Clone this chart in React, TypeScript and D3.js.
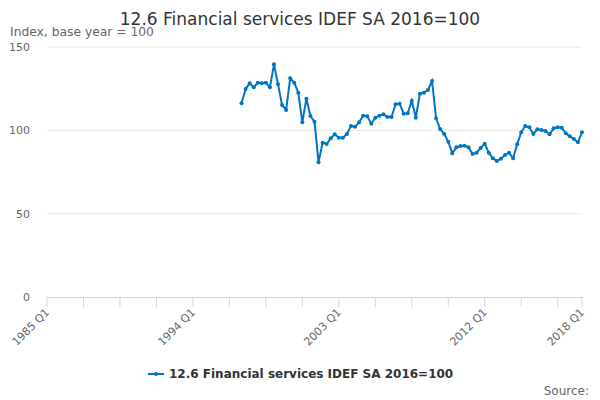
import * as d3 from 'd3';

const TITLE = '12.6 Financial services IDEF SA 2016=100';
const SUBTITLE = 'Index, base year = 100';
const SERIES_NAME = '12.6 Financial services IDEF SA 2016=100';

const startYear = 1985;
const endYear = 2018;
const firstDataQuarter = '1997 Q1';

const values = [
  116.2, 124.8, 128.2, 125.8, 128.6, 128.2, 128.6, 125.8, 139.6, 127.6,
  115.2, 112.2, 131.2, 128.6, 122.6, 104.8, 119, 108.6, 105.2, 80.8,
  92.6, 91.8, 95.2, 97.6, 95.6, 95.6, 97.8, 102.6, 102.2, 104.8,
  108.8, 108.4, 104, 107.6, 108.8, 109.6, 108, 108, 115.6, 116,
  110, 110.2, 117.8, 107.6, 122, 122.6, 124.2, 129.6, 107.2, 100.8,
  97.8, 93.2, 86.2, 89.8, 90.6, 90.8, 89.8, 85.8, 86.6, 89.4,
  92, 86.6, 83.2, 81.6, 83, 85.2, 86.6, 83.2, 91.6, 98.8,
  102.6, 101.8, 97.8, 100.6, 100.2, 99.6, 97.6, 101.2, 101.8, 101.6,
  98.2, 96.4, 94.8, 92.8, 98.8,
];

const yTicks = [0, 50, 100, 150];

// all quarters on the category axis
const categories: string[] = [];
for (let y = startYear; y <= endYear; y++) {
  for (let q = 1; q <= 4; q++) {
    categories.push(`${y} Q${q}`);
    if (y === endYear) break;
  }
}
const labelEvery = 36;
const tickEvery = 9;

const W = 600;
const H = 400;
const margin = { left: 47, right: 18, top: 47, bottom: 103 };
const font = '"DejaVu Sans", sans-serif';

export default function App() {
  const innerW = W - margin.left - margin.right;
  const innerH = H - margin.top - margin.bottom;

  const x = d3.scalePoint<string>().domain(categories).range([0, innerW]);
  const y = d3.scaleLinear().domain([0, 150]).range([innerH, 0]);

  const start = categories.indexOf(firstDataQuarter);
  const data = values.map((v, i) => ({ cat: categories[start + i], v }));

  const line = d3
    .line<{ cat: string; v: number }>()
    .x(d => x(d.cat) as number)
    .y(d => y(d.v));

  const tickCats = categories.filter((_, i) => i % tickEvery === 0 || i === categories.length - 1);
  const labelCats = categories.filter((_, i) => i % labelEvery === 0 || i === categories.length - 1);

  return (
    <svg
      width={W}
      height={H}
      style={{ position: 'absolute', left: 0, top: 0, fontFamily: font }}
    >
      <rect width={W} height={H} fill="#fff" />
      <text x={W / 2} y={25} textAnchor="middle" fontSize={17} fill="#333">
        {TITLE}
      </text>
      <text x={10} y={36} fontSize={12.3} fill="#666">
        {SUBTITLE}
      </text>

      <g transform={`translate(${margin.left},${margin.top})`}>
        {/* grid + y labels */}
        {yTicks.map(t => (
          <g key={t}>
            {t !== 0 && (
              <line x1={0} x2={innerW} y1={y(t)} y2={y(t)} stroke="#e6e6e6" />
            )}
            <text x={-17} y={y(t) + 4} textAnchor="end" fontSize={11} fill="#666">
              {t}
            </text>
          </g>
        ))}

        {/* x axis */}
        <line x1={0} x2={innerW} y1={innerH + 0.5} y2={innerH + 0.5} stroke="#ccd6eb" />
        {tickCats.map(c => (
          <line
            key={c}
            x1={x(c)}
            x2={x(c)}
            y1={innerH}
            y2={innerH + 10}
            stroke="#ccd6eb"
          />
        ))}
        {labelCats.map(c => (
          <text
            key={c}
            transform={`translate(${(x(c) as number) + 3},${innerH + 16}) rotate(-45)`}
            textAnchor="end"
            fontSize={11}
            fill="#666"
          >
            {c}
          </text>
        ))}

        {/* series */}
        <path d={line(data) || ''} fill="none" stroke="#0076c0" strokeWidth={2} />
        {data.map(d => (
          <circle key={d.cat} cx={x(d.cat)} cy={y(d.v)} r={2} fill="#0076c0" />
        ))}
      </g>

      {/* legend */}
      <g transform="translate(148,374)">
        <line x1={0} x2={16} y1={0} y2={0} stroke="#0076c0" strokeWidth={2} />
        <circle cx={8} cy={0} r={2} fill="#0076c0" />
        <text x={21} y={4} fontSize={12} fontWeight="bold" fill="#333">
          {SERIES_NAME}
        </text>
      </g>

      <text x={589} y={395} textAnchor="end" fontSize={12} fill="#666">
        Source:
      </text>
    </svg>
  );
}
